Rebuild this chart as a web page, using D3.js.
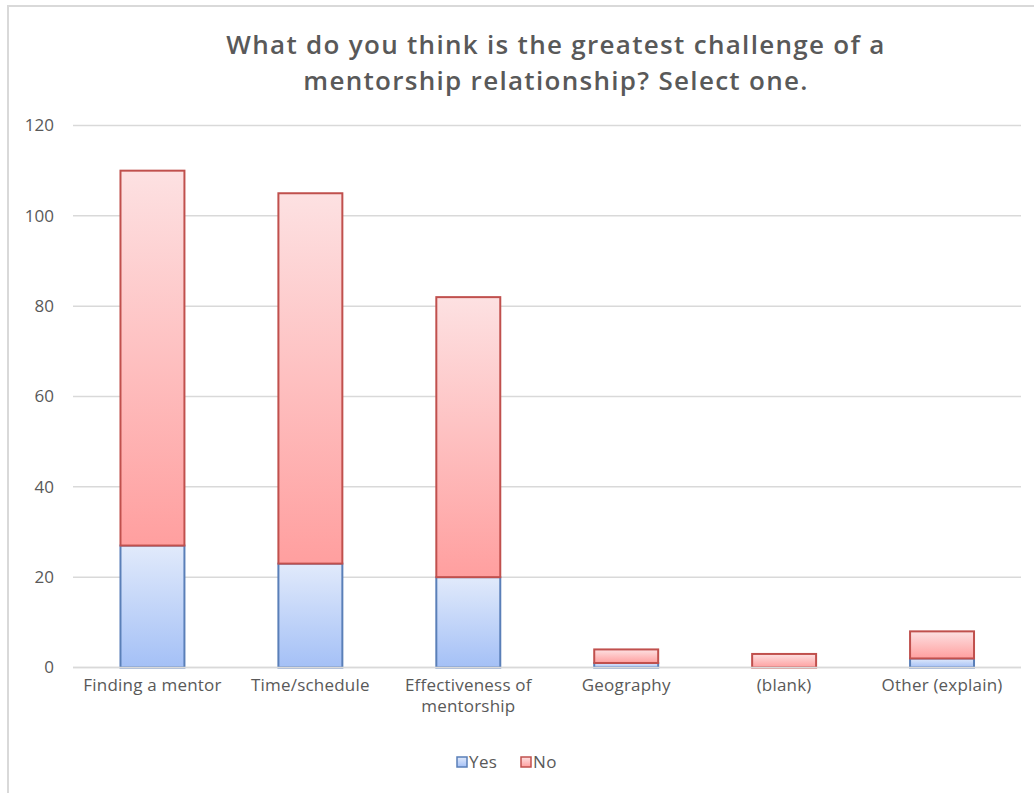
<!DOCTYPE html>
<html><head><meta charset="utf-8">
<script src="https://cdn.jsdelivr.net/npm/d3@7"></script>
<style>body{margin:0;background:#fff}svg{display:block}</style>
</head><body>
<svg id="c" width="1034" height="793"></svg>
<script>
const categories = ["Finding a mentor","Time/schedule","Effectiveness of mentorship","Geography","(blank)","Other (explain)"];
const yesValues = [27, 23, 20, 1, 0, 2];
const noValues = [83, 82, 62, 3, 3, 6];
const seriesNames = ["Yes","No"];
const yTicks = [0,20,40,60,80,100,120];
const titleLines = ["What do you think is the greatest challenge of a","mentorship relationship? Select one."];

const svg = d3.select("#c");
const font = "'Open Sans', Lato, sans-serif";
const grey = "#595959";

// border
svg.append("rect").attr("x",8).attr("y",6).attr("width",1040).attr("height",800)
  .attr("fill","#fff").attr("stroke","#d9d9d9").attr("stroke-width",2);

const defs = svg.append("defs");
const gB = defs.append("linearGradient").attr("id","gYes").attr("x1",0).attr("y1",0).attr("x2",0).attr("y2",1);
gB.append("stop").attr("offset","0%").attr("stop-color","#e1eafb");
gB.append("stop").attr("offset","100%").attr("stop-color","#a4c0f6");
const gR = defs.append("linearGradient").attr("id","gNo").attr("x1",0).attr("y1",0).attr("x2",0).attr("y2",1);
gR.append("stop").attr("offset","0%").attr("stop-color","#fde1e2");
gR.append("stop").attr("offset","100%").attr("stop-color","#ff9f9f");

const x = d3.scaleBand().domain(categories).range([73.5,1021]).paddingInner(0.595).paddingOuter(0.2975);
const y = d3.scaleLinear().domain([0,120]).range([667.5,125.5]);

// gridlines
svg.append("g").selectAll("line").data(yTicks).join("line")
  .attr("x1",73).attr("x2",1021).attr("y1",d=>y(d)).attr("y2",d=>y(d))
  .attr("stroke","#d9d9d9").attr("stroke-width",1.5);

// y axis labels
const yAxis = d3.axisLeft(y).tickValues(yTicks).tickSize(0).tickPadding(0);
const ya = svg.append("g").attr("transform","translate(54,0)").call(yAxis);
ya.select(".domain").remove();
ya.selectAll("text").attr("fill",grey).style("font-family",font).style("font-size","17px");

// stacks
const data = categories.map((c,i)=>({cat:c, Yes:yesValues[i], No:noValues[i]}));
const stack = d3.stack().keys(seriesNames)(data);
const fills = {Yes:"url(#gYes)", No:"url(#gNo)"};
const strokes = {Yes:"#5a7fb8", No:"#c0504d"};
stack.forEach(s=>{
  svg.append("g").selectAll("rect").data(s.filter(d=>d[1]-d[0]>0)).join("rect")
    .attr("x",d=>x(d.data.cat)).attr("width",x.bandwidth())
    .attr("y",d=>y(d[1])).attr("height",d=>y(d[0])-y(d[1]))
    .attr("fill",fills[s.key]).attr("stroke",strokes[s.key]).attr("stroke-width",2);
});

// x axis line
svg.append("line").attr("x1",73).attr("x2",1021).attr("y1",y(0)).attr("y2",y(0))
  .attr("stroke","#d9d9d9").attr("stroke-width",1.5);

// x labels
const xa = svg.append("g").attr("transform","translate(0,"+y(0)+")").call(d3.axisBottom(x).tickSize(0).tickPadding(0));
xa.select(".domain").remove();
xa.selectAll("text").remove();
xa.selectAll(".tick").each(function(d){
  const g = d3.select(this);
  const lines = d==="Effectiveness of mentorship" ? ["Effectiveness of","mentorship"] : [d];
  lines.forEach((l,k)=>g.append("text").attr("y",23+k*21).attr("text-anchor","middle")
    .attr("fill",grey).style("font-family",font).style("font-size","17px").style("letter-spacing","0.2px").text(l));
});

// title
svg.append("g").selectAll("text").data(titleLines).join("text")
  .attr("x",556).attr("y",(d,i)=>54+i*36).attr("text-anchor","middle")
  .attr("fill",grey).style("font-family",font).style("font-size","26px").style("font-weight","600")
  .style("letter-spacing","1.3px")
  .text(d=>d);

// legend
const leg = svg.append("g");
const legX = [457, 521];
seriesNames.forEach((n,i)=>{
  leg.append("rect").attr("x",legX[i]).attr("y",757).attr("width",10).attr("height",10)
    .attr("fill",fills[n]).attr("stroke",strokes[n]).attr("stroke-width",1.5);
  leg.append("text").attr("x",legX[i]+12).attr("y",768).attr("fill",grey)
    .style("font-family",font).style("font-size","17px").style("letter-spacing","0.4px").text(n);
});
</script>
</body></html>
